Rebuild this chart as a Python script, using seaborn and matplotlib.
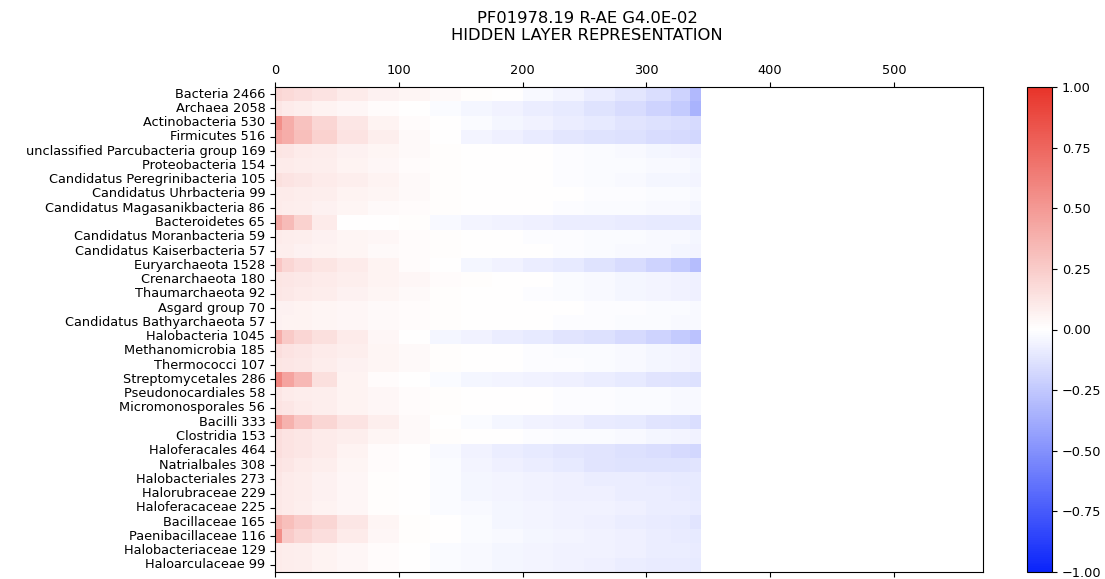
import numpy as np
import pandas as pd
import matplotlib
matplotlib.use("Agg")
import matplotlib.pyplot as plt
from matplotlib.colors import LinearSegmentedColormap
import seaborn as sns

# Taxa (with sequence counts) shown as heatmap rows, top to bottom
taxa = [
    "Bacteria 2466", "Archaea 2058", "Actinobacteria 530", "Firmicutes 516",
    "unclassified Parcubacteria group 169", "Proteobacteria 154",
    "Candidatus Peregrinibacteria 105", "Candidatus Uhrbacteria 99",
    "Candidatus Magasanikbacteria 86", "Bacteroidetes 65",
    "Candidatus Moranbacteria 59", "Candidatus Kaiserbacteria 57",
    "Euryarchaeota 1528", "Crenarchaeota 180", "Thaumarchaeota 92",
    "Asgard group 70", "Candidatus Bathyarchaeota 57", "Halobacteria 1045",
    "Methanomicrobia 185", "Thermococci 107", "Streptomycetales 286",
    "Pseudonocardiales 58", "Micromonosporales 56", "Bacilli 333",
    "Clostridia 153", "Haloferacales 464", "Natrialbales 308",
    "Halobacteriales 273", "Halorubraceae 229", "Haloferacaceae 225",
    "Bacillaceae 165", "Paenibacillaceae 116", "Halobacteriaceae 129",
    "Haloarculaceae 99",
]

# Residue bins along the sequence; each row holds one mean activation per bin
bin_edges = [0, 6, 15, 30, 50, 75, 100, 125, 150, 175, 200, 225, 250, 275, 300, 320, 335, 344]

domains = [
    [0.20, 0.18, 0.16, 0.14, 0.10, 0.07, 0.05, 0.03, 0.01, 0.00, -0.03, -0.05, -0.08, -0.11, -0.15, -0.20, -0.32],
    [0.12, 0.10, 0.08, 0.06, 0.04, 0.02, 0.00, -0.02, -0.04, -0.06, -0.08, -0.10, -0.13, -0.16, -0.20, -0.24, -0.35],
]

bacterial_phyla = [
    [0.55, 0.40, 0.30, 0.20, 0.12, 0.06, 0.02, 0.00, -0.02, -0.04, -0.06, -0.08, -0.10, -0.12, -0.14, -0.15, -0.17],
    [0.45, 0.40, 0.32, 0.22, 0.14, 0.08, 0.03, 0.00, -0.05, -0.07, -0.09, -0.11, -0.13, -0.14, -0.16, -0.17, -0.18],
    [0.13, 0.12, 0.10, 0.09, 0.07, 0.05, 0.03, 0.01, 0.00, 0.00, 0.00, -0.01, -0.02, -0.03, -0.04, -0.05, -0.06],
    [0.10, 0.10, 0.09, 0.08, 0.06, 0.04, 0.02, 0.01, 0.00, 0.00, 0.00, -0.01, -0.02, -0.02, -0.03, -0.03, -0.04],
    [0.15, 0.14, 0.12, 0.10, 0.08, 0.06, 0.03, 0.01, 0.00, 0.00, 0.00, -0.01, -0.02, -0.03, -0.04, -0.04, -0.05],
    [0.10, 0.10, 0.09, 0.08, 0.06, 0.05, 0.03, 0.01, 0.00, 0.00, 0.00, 0.00, -0.01, -0.01, -0.02, -0.02, -0.03],
    [0.10, 0.09, 0.08, 0.07, 0.05, 0.03, 0.02, 0.01, 0.00, 0.00, 0.00, -0.01, -0.02, -0.02, -0.03, -0.03, -0.04],
    [0.42, 0.33, 0.22, 0.10, 0.00, 0.00, 0.01, -0.03, -0.05, -0.06, -0.07, -0.08, -0.08, -0.09, -0.10, -0.10, -0.10],
    [0.10, 0.09, 0.08, 0.07, 0.05, 0.04, 0.02, 0.01, 0.00, 0.00, -0.01, -0.01, -0.02, -0.02, -0.03, -0.03, -0.04],
    [0.08, 0.08, 0.07, 0.06, 0.05, 0.03, 0.02, 0.01, 0.00, 0.00, 0.00, -0.01, -0.02, -0.03, -0.03, -0.04, -0.05],
]

archaeal_phyla = [
    [0.28, 0.20, 0.16, 0.13, 0.10, 0.06, 0.02, 0.00, -0.04, -0.06, -0.08, -0.10, -0.13, -0.16, -0.20, -0.24, -0.30],
    [0.13, 0.12, 0.11, 0.10, 0.08, 0.06, 0.04, 0.02, 0.01, 0.00, 0.00, -0.02, -0.03, -0.04, -0.05, -0.06, -0.07],
    [0.12, 0.11, 0.10, 0.09, 0.07, 0.05, 0.03, 0.01, 0.00, 0.00, -0.01, -0.02, -0.03, -0.04, -0.05, -0.06, -0.07],
    [0.07, 0.07, 0.06, 0.05, 0.04, 0.03, 0.02, 0.01, 0.00, 0.00, 0.00, 0.00, -0.01, -0.01, -0.02, -0.02, -0.03],
    [0.07, 0.06, 0.06, 0.05, 0.04, 0.03, 0.02, 0.01, 0.00, 0.00, 0.00, -0.01, -0.01, -0.02, -0.02, -0.03, -0.03],
]

classes_orders = [
    [0.40, 0.26, 0.20, 0.15, 0.10, 0.04, 0.00, -0.04, -0.06, -0.08, -0.10, -0.12, -0.14, -0.17, -0.20, -0.24, -0.28],
    [0.16, 0.14, 0.12, 0.10, 0.08, 0.05, 0.03, 0.01, 0.00, 0.00, -0.01, -0.02, -0.02, -0.03, -0.04, -0.05, -0.06],
    [0.13, 0.12, 0.11, 0.09, 0.07, 0.05, 0.03, 0.01, 0.00, 0.00, -0.01, -0.01, -0.02, -0.03, -0.04, -0.05, -0.06],
    [0.60, 0.45, 0.35, 0.15, 0.06, 0.02, 0.00, -0.02, -0.04, -0.05, -0.06, -0.07, -0.08, -0.10, -0.12, -0.13, -0.14],
    [0.12, 0.10, 0.09, 0.08, 0.06, 0.04, 0.02, 0.01, 0.00, 0.00, 0.00, -0.01, -0.01, -0.02, -0.02, -0.03, -0.03],
    [0.14, 0.12, 0.10, 0.08, 0.06, 0.04, 0.02, 0.01, 0.00, 0.00, 0.00, -0.01, -0.01, -0.02, -0.02, -0.03, -0.03],
    [0.50, 0.38, 0.28, 0.20, 0.14, 0.08, 0.03, 0.00, -0.02, -0.04, -0.06, -0.07, -0.09, -0.10, -0.12, -0.13, -0.15],
    [0.16, 0.14, 0.12, 0.10, 0.08, 0.05, 0.03, 0.01, 0.00, 0.00, -0.01, -0.02, -0.02, -0.03, -0.04, -0.05, -0.06],
    [0.16, 0.14, 0.12, 0.10, 0.06, 0.02, 0.00, -0.03, -0.06, -0.08, -0.10, -0.11, -0.12, -0.14, -0.15, -0.17, -0.18],
    [0.14, 0.12, 0.10, 0.08, 0.05, 0.02, 0.00, -0.02, -0.05, -0.07, -0.08, -0.10, -0.12, -0.13, -0.13, -0.13, -0.12],
    [0.12, 0.10, 0.09, 0.07, 0.04, 0.01, 0.00, -0.02, -0.04, -0.05, -0.06, -0.07, -0.08, -0.08, -0.09, -0.10, -0.10],
]

families = [
    [0.11, 0.10, 0.09, 0.07, 0.04, 0.01, 0.00, -0.02, -0.04, -0.05, -0.06, -0.07, -0.07, -0.08, -0.08, -0.09, -0.10],
    [0.11, 0.10, 0.08, 0.06, 0.04, 0.01, 0.00, -0.02, -0.03, -0.04, -0.05, -0.06, -0.06, -0.07, -0.08, -0.08, -0.09],
    [0.38, 0.32, 0.25, 0.20, 0.12, 0.05, 0.01, 0.00, -0.02, -0.04, -0.05, -0.06, -0.07, -0.08, -0.09, -0.10, -0.12],
    [0.55, 0.25, 0.20, 0.16, 0.10, 0.04, 0.01, 0.00, -0.02, -0.03, -0.04, -0.05, -0.06, -0.07, -0.08, -0.09, -0.10],
    [0.10, 0.09, 0.08, 0.06, 0.04, 0.02, 0.00, -0.02, -0.03, -0.04, -0.05, -0.06, -0.06, -0.07, -0.08, -0.08, -0.09],
    [0.10, 0.09, 0.08, 0.06, 0.04, 0.02, 0.00, -0.02, -0.03, -0.04, -0.05, -0.06, -0.07, -0.08, -0.09, -0.09, -0.10],
]

max_length = 572
x_ticks = [0, 100, 200, 300, 400, 500]
cbar_ticks = [-1.0, -0.75, -0.5, -0.25, 0.0, 0.25, 0.5, 0.75, 1.0]

# Expand the per-bin activations to one column per residue position
binned = np.array(domains + bacterial_phyla + archaeal_phyla + classes_orders + families)
widths = np.diff(bin_edges)
per_residue = np.repeat(binned, widths, axis=1)
frame = pd.DataFrame(per_residue, index=taxa, columns=np.arange(bin_edges[-1]))

# Diverging blue-white-red palette
diverging = LinearSegmentedColormap.from_list(
    "blue_white_red", ["#0a24fa", "#ffffff", "#e8342a"])

W, H = 1105, 579
fig = plt.figure(figsize=(W / 100, H / 100), dpi=100)
ax = fig.add_axes([275 / W, 1 - 572 / H, (983 - 275) / W, (572 - 87) / H])
cax = fig.add_axes([1027 / W, 1 - 572 / H, 25 / W, (572 - 87) / H])

sns.heatmap(frame, cmap=diverging, vmin=-1, vmax=1, ax=ax, cbar_ax=cax,
            xticklabels=False, yticklabels=True)

fs = 9.3
ax.set_xlim(0, max_length)
ax.set_ylim(len(taxa), 0)
ax.set_xlabel("")
ax.set_ylabel("")
ax.set_xticks(x_ticks)
ax.set_xticklabels([str(t) for t in x_ticks], fontsize=fs)
ax.tick_params(axis="x", top=True, labeltop=True, bottom=True, labelbottom=False,
               length=3.5, width=0.8, color="black")
ax.tick_params(axis="y", left=True, length=3.5, width=0.8, color="black", labelsize=fs)
plt.setp(ax.get_yticklabels(), rotation=0)
for sp in ax.spines.values():
    sp.set_visible(True)
    sp.set_linewidth(0.8)
    sp.set_color("black")

cb = ax.collections[0].colorbar
cb.set_ticks(cbar_ticks, labels=[f"{t:.2f}".replace("-", "\u2212") for t in cbar_ticks])
cb.ax.tick_params(labelsize=fs, length=3.5, width=0.8, color="black")
cb.outline.set_visible(True)
cb.outline.set_linewidth(0.8)
cb.outline.set_edgecolor("black")

fig.text(587 / W, 1 - 11 / H, "PF01978.19 R-AE G4.0E-02\nHIDDEN LAYER REPRESENTATION",
         ha="center", va="top", fontsize=11.8, linespacing=1.2)

fig.savefig("out.png", dpi=100)
